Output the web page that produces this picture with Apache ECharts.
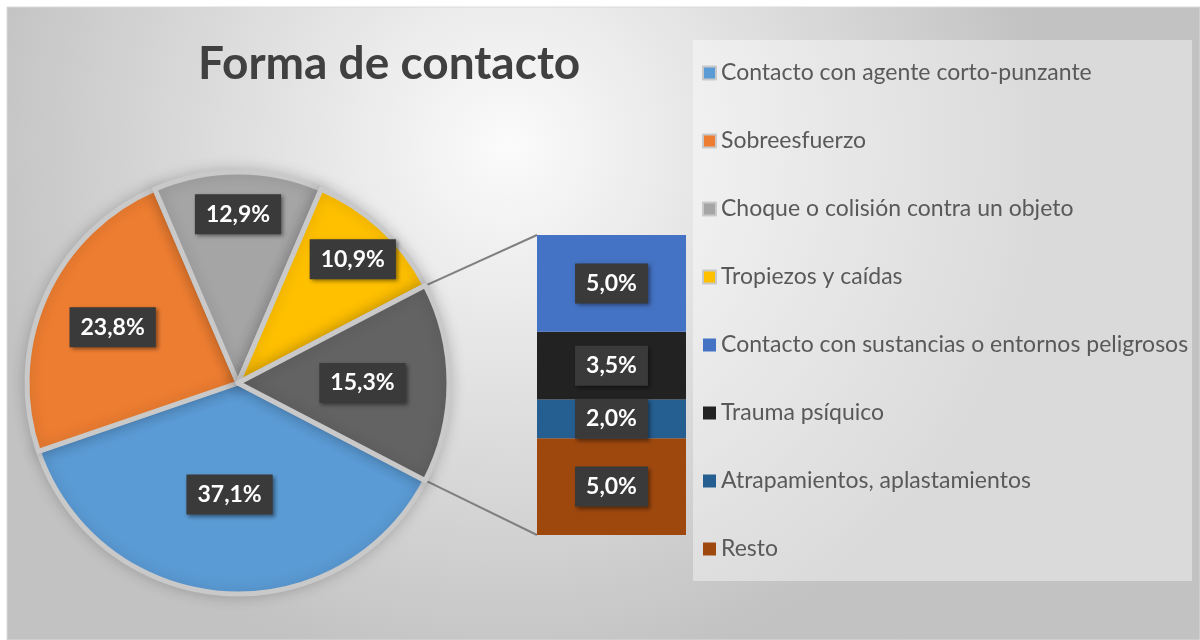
<!DOCTYPE html>
<html>
<head>
<meta charset="utf-8">
<script src="https://cdn.jsdelivr.net/npm/echarts@6/dist/echarts.min.js"></script>
<style>
  html, body { margin: 0; padding: 0; background: #fff; }
  #chart { width: 1200px; height: 640px; }
</style>
</head>
<body>
<div id="chart"></div>
<script>
// datos del gráfico
const pieNames = ['Contacto con agente corto-punzante', 'Sobreesfuerzo', 'Choque o colisión contra un objeto', 'Tropiezos y caídas', 'Otros'];
const pieValues = [37.1, 23.8, 12.9, 10.9, 15.3];
const barNames = ['Contacto con sustancias o entornos peligrosos', 'Trauma psíquico', 'Atrapamientos, aplastamientos', 'Resto'];
const barValues = [5.0, 3.5, 2.0, 5.0];

const pieColors = ['#5B9BD5', '#ED7D31', '#A5A5A5', '#FFC000', '#636363'];
const barColors = ['#4472C4', '#222222', '#255E91', '#9E480E'];

const center = [238, 383];
const radius = 211;
const gridBox = { left: 537, top: 235, width: 149, height: 300 };
// distancia de cada etiqueta al centro (fracción del radio), como en Excel
const labelDist = [0.53, 0.65, 0.8, 0.8, 0.59];

const fmt = v => v.toFixed(1).replace('.', ',') + '%';

const otros = pieValues[pieValues.length - 1];
const pieTotal = pieValues.reduce((a, b) => a + b, 0);
const barTotal = barValues.reduce((a, b) => a + b, 0);
const startDeg = otros / pieTotal * 180; // el sector "Otros" queda centrado a la derecha

// ángulos medios (pantalla, sentido horario desde las 3)
const midAngles = [];
let acc = startDeg;
pieValues.forEach(v => {
  const span = v / pieTotal * 360;
  midAngles.push((acc + span / 2) * Math.PI / 180);
  acc += span;
});

const labelBox = {
  color: '#fff',
  fontFamily: 'Lato',
  fontWeight: 'bold',
  fontSize: 23,
  backgroundColor: '#3a3a3a',
  padding: [9, 11, 8, 11],
  shadowColor: 'rgba(0,0,0,0.45)',
  shadowBlur: 4,
  shadowOffsetX: 2,
  shadowOffsetY: 2
};

const myChart = echarts.init(document.getElementById('chart'));

const option = {
  animation: false,
  title: {
    text: 'Forma de contacto',
    left: 193,
    top: 36,
    textStyle: { fontFamily: 'Lato', fontWeight: 'bold', fontSize: 46, color: '#404040' }
  },
  legend: {
    orient: 'vertical',
    left: 693,
    top: 40,
    data: pieNames.slice(0, 4).concat(barNames),
    itemWidth: 13,
    itemHeight: 13,
    itemGap: 44,
    icon: 'rect',
    backgroundColor: 'rgba(255,255,255,0.4)',
    padding: [21, 4, 20, 9],
    selectedMode: false,
    textStyle: { fontFamily: 'Lato', fontSize: 23, color: '#595959', lineHeight: 24 }
  },
  grid: { left: gridBox.left, top: gridBox.top, width: gridBox.width, height: gridBox.height },
  xAxis: { type: 'category', data: ['Otros'], show: false },
  yAxis: { type: 'value', min: 0, max: barTotal, show: false },
  series: [
    {
      type: 'pie',
      center: center,
      radius: radius,
      startAngle: -startDeg,
      clockwise: true,
      data: pieNames.map((n, i) => ({ name: n, value: pieValues[i], itemStyle: { color: pieColors[i] } })),
      itemStyle: {
        borderColor: '#c9c9c9',
        borderWidth: 5,
        shadowBlur: 14,
        shadowColor: 'rgba(0,0,0,0.18)'
      },
      label: Object.assign({ position: 'inside', formatter: p => fmt(p.value) }, labelBox),
      labelLine: { show: false },
      labelLayout: function (p) {
        const a = midAngles[p.dataIndex];
        const f = labelDist[p.dataIndex];
        return { x: center[0] + radius * f * Math.cos(a), y: center[1] + radius * f * Math.sin(a) };
      },
      emphasis: { disabled: true }
    }
  ].concat(barNames.map((n, i) => ({ i, n })).reverse().map(({ i, n }) => ({
    type: 'bar',
    name: n,
    stack: 'otros',
    barWidth: '100%',
    data: [barValues[i]],
    itemStyle: { color: barColors[i] },
    label: Object.assign({ show: true, position: 'inside', formatter: p => fmt(p.value) }, labelBox),
    emphasis: { disabled: true }
  })))
};

myChart.setOption(option);

// líneas de conexión entre el sector "Otros" y la barra
const a0 = startDeg * Math.PI / 180;
const topY = myChart.convertToPixel({ yAxisIndex: 0 }, barTotal);
const botY = myChart.convertToPixel({ yAxisIndex: 0 }, 0);
const edgeR = radius - 4;
myChart.setOption({
  graphic: [
    {
      type: 'rect', z: -10, silent: true,
      shape: { x: 7, y: 7, width: 1193, height: 633 },
      style: {
        fill: new echarts.graphic.RadialGradient(0.42, 0.22, 0.85, [
          { offset: 0, color: '#fbfbfb' },
          { offset: 1, color: '#c2c2c2' }
        ]),
        stroke: '#dadada', lineWidth: 1
      }
    },
    {
      type: 'line', z: 1, silent: true,
      shape: { x1: center[0] + edgeR * Math.cos(a0), y1: center[1] - edgeR * Math.sin(a0), x2: gridBox.left, y2: topY },
      style: { stroke: '#808080', lineWidth: 2 }
    },
    {
      type: 'line', z: 1, silent: true,
      shape: { x1: center[0] + edgeR * Math.cos(a0), y1: center[1] + edgeR * Math.sin(a0), x2: gridBox.left, y2: botY },
      style: { stroke: '#808080', lineWidth: 2 }
    }
  ]
});
</script>
</body>
</html>
